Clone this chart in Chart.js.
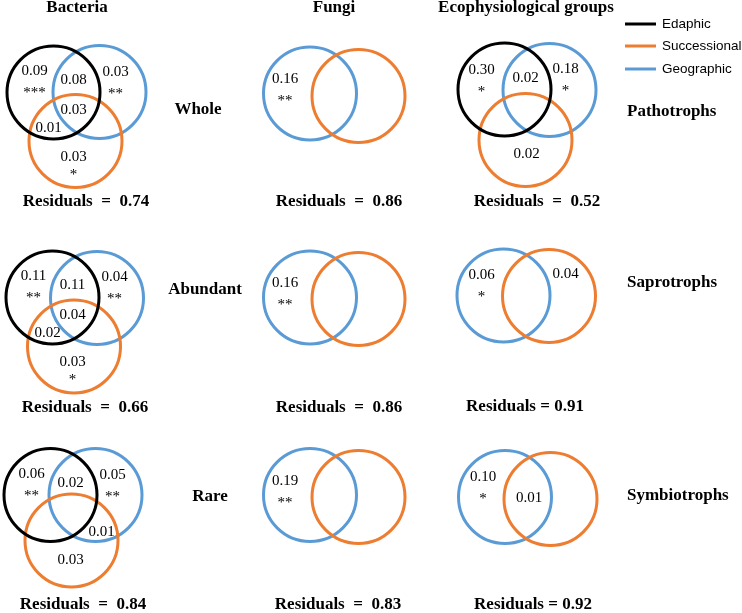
<!DOCTYPE html>
<html lang="en">
<head>
  <meta charset="UTF-8" />
  <title>Variation partitioning Venn diagrams</title>
  <script src="https://cdn.jsdelivr.net/npm/chart.js"></script>
  <style>
    body { margin: 0; background: #fff; }
    #wrap { width: 742px; height: 613px; }
  </style>
</head>
<body>
<div id="wrap"><canvas id="venn" width="742" height="613"></canvas></div>

<script>
  // ---- data ----
  const columnTitles = ['Bacteria', 'Fungi', 'Ecophysiological groups'];
  const bacteriaRows = ['Whole', 'Abundant', 'Rare'];
  const ecoRows = ['Pathotrophs', 'Saprotrophs', 'Symbiotrophs'];
  const setNames = ['Edaphic', 'Successional', 'Geographic'];
  const setKeys = ['E', 'S', 'G'];
  // fractions: E only, G only, S only, E&G, E&S, G&S, E&G&S
  const regionKeys = ['E', 'G', 'S', 'EG', 'ES', 'GS', 'EGS'];

  const bacteriaValues = [
    [0.09, 0.03, 0.03, 0.08, 0.01, null, 0.03],
    [0.11, 0.04, 0.03, 0.11, 0.02, null, 0.04],
    [0.06, 0.05, 0.03, 0.02, null, 0.01, null]
  ];
  const bacteriaStars = [
    ['***', '**', '*', '', '', '', ''],
    ['**', '**', '*', '', '', '', ''],
    ['**', '**', '', '', '', '', '']
  ];
  const fungiValues = [
    [null, 0.16, null, null, null, null, null],
    [null, 0.16, null, null, null, null, null],
    [null, 0.19, null, null, null, null, null]
  ];
  const fungiStars = [
    ['', '**', '', '', '', '', ''],
    ['', '**', '', '', '', '', ''],
    ['', '**', '', '', '', '', '']
  ];
  const ecoValues = [
    [0.30, 0.18, 0.02, 0.02, null, null, null],
    [null, 0.06, 0.04, null, null, null, null],
    [null, 0.10, null, null, null, 0.01, null]
  ];
  const ecoStars = [
    ['*', '*', '', '', '', '', ''],
    ['', '*', '', '', '', '', ''],
    ['', '*', '', '', '', '', '']
  ];
  const bacteriaResiduals = [0.74, 0.66, 0.84];
  const fungiResiduals = [0.86, 0.86, 0.83];
  const ecoResiduals = [0.52, 0.91, 0.92];

  // ---- layout (pixels) ----
  const setColors = { E: '#000000', S: '#ED7D31', G: '#5B9BD5' };
  const circleRadius = 46.5;
  const circles = [
    [{ E: [53.5, 92.5], G: [99.5, 92], S: [75.5, 141] },
     { E: [52.5, 297.5], G: [97, 298], S: [74, 346.5] },
     { E: [50.5, 495], G: [95.5, 495], S: [71.5, 540.5] }],
    [{ G: [310, 93.5], S: [358.5, 96] },
     { G: [310, 297.5], S: [358.5, 299] },
     { G: [310, 495], S: [358.5, 497] }],
    [{ E: [504.5, 89.5], G: [549.5, 90], S: [525.5, 140] },
     { G: [503.5, 295.5], S: [549, 296] },
     { G: [505, 497], S: [550.5, 499] }]
  ];
  // label offsets from the first circle of each panel
  const triOffsets = { E: [-19, -21], G: [62, -20], EG: [20, -12], EGS: [20, 18], ES: [-5, 36], GS: [51, 37], S: [20, 65] };
  const ecoTriOffsets = { E: [-23, -19], G: [61, -20], EG: [21, -11], S: [22, 65] };
  const fungiOffsets = { G: [-25, -14] };
  const ecoPairOffsets = { G: [-22, -20], S: [62, -21], GS: [24, 1] };
  const residualPos = [
    [[86, 202], [85, 408], [83, 605]],
    [[339, 202], [339, 408], [338, 605]],
    [[537, 202], [525, 407], [533, 605]]
  ];
  const residualSep = [['  =  ', '  =  ', '  =  '], ['  =  ', '  =  ', '  =  '], ['  =  ', ' = ', ' = ']];
  const titlePos = [[77, 8], [334, 8], [526, 8]];
  const rowLabelPos = [[[198, 110], [205, 290], [210, 497]], [[627, 112], [627, 283], [627, 496]]];

  const allValues = [bacteriaValues, fungiValues, ecoValues];
  const allStars = [bacteriaStars, fungiStars, ecoStars];
  const allResiduals = [bacteriaResiduals, fungiResiduals, ecoResiduals];

  function offsetsFor(col, row) {
    if (col === 0) return triOffsets;
    if (col === 1) return fungiOffsets;
    return row === 0 ? ecoTriOffsets : ecoPairOffsets;
  }

  const datasets = setKeys.map((k, i) => {
    const pts = [];
    circles.forEach(colPanels => colPanels.forEach(p => {
      if (p[k]) pts.push({ x: p[k][0], y: p[k][1] });
    }));
    return {
      label: setNames[i],
      data: pts,
      pointRadius: circleRadius,
      pointHoverRadius: circleRadius,
      pointBorderWidth: 3,
      pointBorderColor: setColors[k],
      pointBackgroundColor: 'rgba(0,0,0,0)',
      showLine: false,
      clip: false
    };
  });

  const serif = '"Liberation Serif", "Times New Roman", serif';

  const textPlugin = {
    id: 'vennText',
    afterDatasetsDraw(chart) {
      const ctx = chart.ctx;
      ctx.save();
      ctx.fillStyle = '#000';
      ctx.textAlign = 'center';
      ctx.textBaseline = 'middle';

      // column titles
      ctx.font = 'bold 17px ' + serif;
      columnTitles.forEach((t, i) => ctx.fillText(t, titlePos[i][0], titlePos[i][1]));

      // row labels
      bacteriaRows.forEach((t, i) => ctx.fillText(t, rowLabelPos[0][i][0], rowLabelPos[0][i][1]));
      ctx.textAlign = 'left';
      ecoRows.forEach((t, i) => ctx.fillText(t, rowLabelPos[1][i][0], rowLabelPos[1][i][1]));
      ctx.textAlign = 'center';

      // residuals
      allResiduals.forEach((col, c) => col.forEach((r, row) => {
        const p = residualPos[c][row];
        ctx.fillText('Residuals' + residualSep[c][row] + r.toFixed(2), p[0], p[1]);
      }));

      // fractions and significance
      allValues.forEach((col, c) => col.forEach((vals, row) => {
        const panel = circles[c][row];
        const anchor = panel.E || panel.G;
        const offs = offsetsFor(c, row);
        vals.forEach((v, j) => {
          if (v === null) return;
          const key = regionKeys[j];
          const o = offs[key];
          const x = anchor[0] + o[0];
          const y = anchor[1] + o[1];
          ctx.font = '15px ' + serif;
          ctx.fillText(v.toFixed(2), x, y);
          const s = allStars[c][row][j];
          if (s) {
            ctx.fillText(s, x, y + (key === 'S' ? 18 : 22));
          }
        });
      }));

      // legend
      ctx.textAlign = 'left';
      ctx.font = '13.5px "Liberation Sans", Arial, sans-serif';
      const legendY = [24, 46, 69];
      setKeys.forEach((k, i) => {
        ctx.strokeStyle = setColors[k];
        ctx.lineWidth = 3;
        ctx.beginPath();
        ctx.moveTo(625, legendY[i]);
        ctx.lineTo(656, legendY[i]);
        ctx.stroke();
        ctx.fillText(setNames[i], 662, legendY[i]);
      });
      ctx.restore();
    }
  };

  new Chart(document.getElementById('venn'), {
    type: 'scatter',
    data: { datasets },
    options: {
      responsive: false,
      animation: false,
      events: [],
      layout: { padding: 0, autoPadding: false },
      scales: {
        x: { type: 'linear', min: 0, max: 742, display: false },
        y: { type: 'linear', min: 0, max: 613, reverse: true, display: false }
      },
      plugins: {
        legend: { display: false },
        tooltip: { enabled: false }
      }
    },
    plugins: [textPlugin]
  });
</script>
</body>
</html>
